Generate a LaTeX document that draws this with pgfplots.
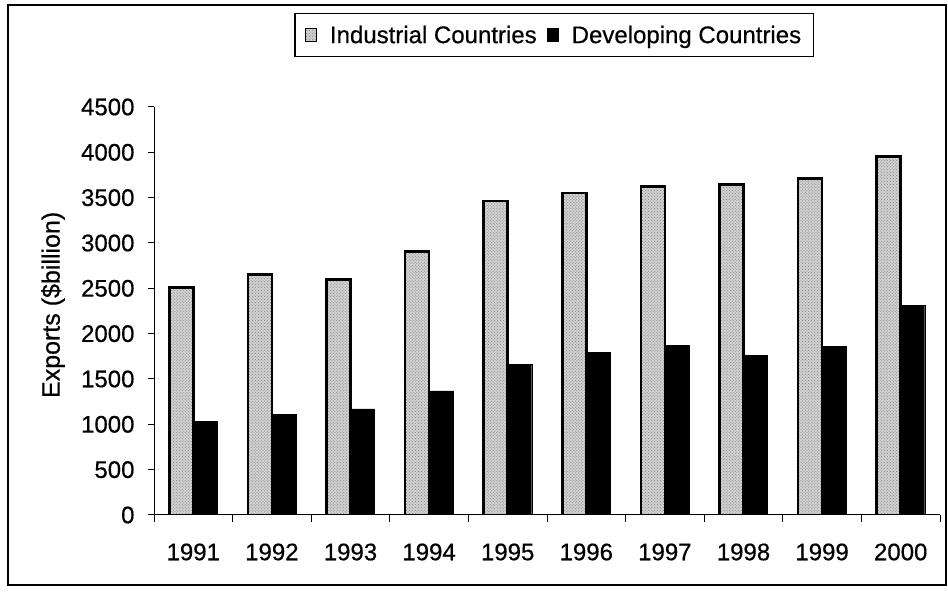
\documentclass[border=0pt]{standalone}
\usepackage{fontspec}
\setmainfont{Liberation Sans}[FakeBold=0.5]
\usepackage{pgfplots}
\usetikzlibrary{patterns}
\pgfplotsset{compat=1.18}
\begin{document}
\begin{tikzpicture}[x=1bp,y=1bp]
\path (0,0) rectangle (948,597);
\draw[line width=2bp] (8,12) rectangle (946,592);
\begin{axis}[
  at={(154bp,82bp)}, anchor=south west,
  scale only axis, width=786bp, height=408bp,
  ybar=0pt, bar width=24bp,
  xmin=-0.5, xmax=9.5, ymin=0, ymax=4500,
  axis lines=left, axis line style={-, line width=1bp},
  xtick={0,1,2,3,4,5,6,7,8,9},
  xticklabels={1991,1992,1993,1994,1995,1996,1997,1998,1999,2000},
  major x tick style={draw=none},
  minor xtick={-0.5,0.5,1.5,2.5,3.5,4.5,5.5,6.5,7.5,8.5,9.5},
  ytick={0,500,1000,1500,2000,2500,3000,3500,4000,4500},
  tick align=outside, tick pos=left,
  major tick length=6bp, minor tick length=7bp,
  tick style={black, line width=1bp},
  tick label style={font=\fontsize{24bp}{28bp}\selectfont},
  xticklabel style={yshift=-19bp},
  yticklabel style={xshift=-10bp},
  /pgf/number format/assume math mode=true,
  /pgf/number format/1000 sep={},
  ylabel={Exports (\$billion)},
  ylabel style={font=\fontsize{25bp}{29bp}\selectfont, at={(axis description cs:-0.1285,0.515)}, anchor=center},
  legend style={at={(axis description cs:0.509,1.176)}, anchor=center, legend columns=2, draw=black, line width=1.2bp,
    font=\fontsize{24bp}{28bp}\selectfont,
    /tikz/every even column/.append style={column sep=8bp},
    /tikz/every odd column/.append style={column sep=11bp},
    inner xsep=10bp, inner ysep=10bp},
  legend image code/.code={\draw[#1, line width=1bp] (0bp,-6bp) rectangle (11bp,7bp);},
]
\addplot[fill=black!18, draw=black, line width=2.5bp, postaction={pattern=crosshatch dots, pattern color=black!50}] coordinates {(0,2510) (1,2650) (2,2595) (3,2905) (4,3465) (5,3550) (6,3625) (7,3645) (8,3710) (9,3955)};
\addplot[fill=black, draw=black] coordinates {(0,1035) (1,1110) (2,1170) (3,1370) (4,1660) (5,1790) (6,1870) (7,1760) (8,1860) (9,2310)};
\legend{Industrial Countries, Developing Countries}
\end{axis}
\end{tikzpicture}
\end{document}
